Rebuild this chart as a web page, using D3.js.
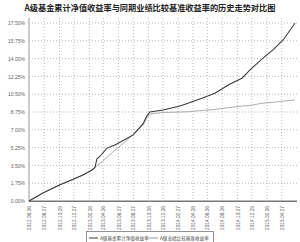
<!DOCTYPE html>
<html>
<head>
<meta charset="utf-8">
<script src="https://cdn.jsdelivr.net/npm/d3@7"></script>
<style>
  body { margin: 0; background: #fff; }
  svg { display: block; }
</style>
</head>
<body>
<svg id="chart" width="300" height="242"></svg>
<script>
var title = 'A级基金累计净值收益率与同期业绩比较基准收益率的历史走势对比图'
var seriesNames = ['A级基金累计净值收益率', 'A级业绩比较基准收益率']

var dates = ['2012-06-26','2012-08-22','2012-10-31','2012-12-15','2013-02-02','2013-03-11','2013-03-23',
             '2013-03-31','2013-04-13','2013-05-11','2013-06-13','2013-07-24','2013-08-26','2013-10-06',
             '2013-10-22','2013-11-03','2013-12-27','2014-03-06','2014-04-08','2014-06-04','2014-07-27',
             '2014-09-27','2014-11-15','2014-12-18','2015-02-09','2015-03-22','2015-05-02','2015-06-20']

var navReturn = [0, 0.79, 1.6, 2.05, 2.56, 3.05, 3.3,
                 4.15, 4.4, 5.2, 5.5, 6.05, 6.5, 7.6,
                 8.4, 8.75, 8.95, 9.34, 9.6, 10.1, 10.6,
                 11.5, 12.07, 12.9, 14.05, 14.85, 15.83, 17.47]

var benchReturn = [0, 0.79, 1.6, 2.05, 2.56, 3.05, 3.3,
                   3.45, 3.7, 4.3, 5.0, 5.8, 6.5, 7.45,
                   8.2, 8.55, 8.7, 8.75, 8.78, 8.9, 9.0,
                   9.2, 9.33, 9.4, 9.62, 9.7, 9.82, 9.93]

var tickDates = ['2012.06.26','2012.08.27','2012.10.29','2012.12.27','2013.02.28','2013.04.26',
                 '2013.06.27','2013.08.27','2013.10.28','2013.12.26','2014.02.27','2014.04.28',
                 '2014.06.26','2014.08.26','2014.10.27','2014.12.25','2015.02.26','2015.04.27']

var yTicks = [0, 1.75, 3.5, 5.25, 7, 8.75, 10.5, 12.25, 14, 15.75, 17.5]

var parse = d3.timeParse('%Y-%m-%d')
var parseTick = d3.timeParse('%Y.%m.%d')

var svg = d3.select('#chart')

var x = d3.scaleTime()
          .domain([parse(dates[0]), parse(dates[dates.length - 1])])
          .range([29, 295])

var y = d3.scaleLinear()
          .domain([0, 17.5])
          .range([201, 23])

// title
svg.append('text')
   .attr('x', 150)
   .attr('y', 11)
   .attr('text-anchor', 'middle')
   .style('font-family', '"Noto Sans CJK SC", sans-serif')
   .style('font-weight', 'bold')
   .style('font-size', '8.2px')
   .style('fill', '#222')
   .text(title)

// horizontal grid
svg.append('g')
   .selectAll('line')
   .data(yTicks.slice(1))
   .join('line')
   .attr('x1', 29)
   .attr('x2', 297)
   .attr('y1', d => y(d))
   .attr('y2', d => y(d))
   .attr('stroke', '#999')
   .attr('stroke-width', 0.7)
   .attr('stroke-dasharray', '1,2')

// vertical grid
svg.append('g')
   .selectAll('line')
   .data(tickDates.slice(1))
   .join('line')
   .attr('x1', d => x(parseTick(d)))
   .attr('x2', d => x(parseTick(d)))
   .attr('y1', 18)
   .attr('y2', 201)
   .attr('stroke', '#999')
   .attr('stroke-width', 0.7)
   .attr('stroke-dasharray', '1,2')

// y axis
var yAxis = d3.axisLeft(y)
              .tickValues(yTicks)
              .tickSize(0)
              .tickPadding(4)
              .tickFormat(d => d.toFixed(2) + '%')

var gy = svg.append('g')
            .attr('transform', 'translate(29,0)')
            .call(yAxis)
gy.select('.domain').remove()
gy.selectAll('text')
  .style('font-family', '"Liberation Sans", sans-serif')
  .style('font-size', '5px')
  .style('fill', '#666')

svg.append('line')
   .attr('x1', 29).attr('x2', 29)
   .attr('y1', 18).attr('y2', 202)
   .attr('stroke', '#bbb')
   .attr('stroke-width', 1.5)

// x axis
var xAxis = d3.axisBottom(x)
              .tickValues(tickDates.map(parseTick))
              .tickSize(0)
              .tickPadding(4)
              .tickFormat(d3.timeFormat('%Y.%m.%d'))

var gx = svg.append('g')
            .attr('transform', 'translate(0,201)')
            .call(xAxis)
gx.select('.domain').remove()
gx.selectAll('text')
  .attr('transform', 'rotate(-90)')
  .attr('text-anchor', 'end')
  .attr('x', -5)
  .attr('y', 0)
  .attr('dy', '0.35em')
  .style('font-family', '"Liberation Sans", sans-serif')
  .style('font-size', '4.8px')
  .style('fill', '#666')

svg.append('line')
   .attr('x1', 29).attr('x2', 297)
   .attr('y1', 201.2).attr('y2', 201.2)
   .attr('stroke', '#777')
   .attr('stroke-width', 1.4)

// lines
var line = d3.line()
             .x((d, i) => x(parse(dates[i])))
             .y(d => y(d))

svg.append('path')
   .datum(benchReturn)
   .attr('d', line)
   .attr('fill', 'none')
   .attr('stroke', '#999')
   .attr('stroke-width', 0.8)

svg.append('path')
   .datum(navReturn)
   .attr('d', line)
   .attr('fill', 'none')
   .attr('stroke', '#3a3a3a')
   .attr('stroke-width', 1.05)

// legend
var legend = svg.append('g')
                .attr('transform', 'translate(86,231)')

legend.append('rect')
      .attr('x', 0.5)
      .attr('y', 0.5)
      .attr('width', 127)
      .attr('height', 14)
      .attr('fill', '#fff')
      .attr('stroke', '#666')
      .attr('stroke-width', 0.7)

var legendX = [3, 63]
var legendColors = ['#3a3a3a', '#999']

legend.selectAll('line.item')
      .data(seriesNames)
      .join('line')
      .attr('class', 'item')
      .attr('x1', (d, i) => legendX[i])
      .attr('x2', (d, i) => legendX[i] + 9)
      .attr('y1', 7)
      .attr('y2', 7)
      .attr('stroke', (d, i) => legendColors[i])
      .attr('stroke-width', 1)

legend.selectAll('text')
      .data(seriesNames)
      .join('text')
      .attr('x', (d, i) => legendX[i] + 11)
      .attr('y', 7)
      .attr('dy', '0.35em')
      .style('font-family', '"Noto Sans CJK SC", sans-serif')
      .style('font-size', '4.6px')
      .style('fill', '#444')
      .text(d => d)
</script>
</body>
</html>
